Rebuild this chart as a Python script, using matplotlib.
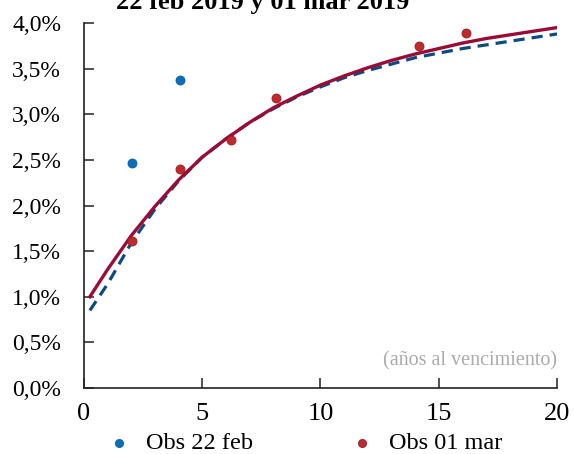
import matplotlib
matplotlib.use("Agg")
import matplotlib.pyplot as plt
from matplotlib.ticker import FuncFormatter

plt.rcParams['font.family'] = ['Liberation Serif', 'DejaVu Serif']

# fitted curves, maturity in years, rate in %
plazos = [0.25, 1, 2, 3, 4, 5, 6, 7, 8, 9, 10, 11, 12, 13, 14, 15, 16, 17, 18, 19, 20]
curva_01mar = [1.00, 1.30, 1.67, 1.99, 2.28, 2.53, 2.73, 2.91, 3.07, 3.20, 3.32,
               3.42, 3.51, 3.59, 3.66, 3.72, 3.78, 3.83, 3.87, 3.91, 3.95]
curva_22feb = [0.85, 1.14, 1.59, 1.96, 2.27, 2.53, 2.73, 2.91, 3.06, 3.19, 3.30,
               3.40, 3.48, 3.55, 3.62, 3.67, 3.72, 3.76, 3.80, 3.84, 3.88]

# observations
obs_22feb_x = [2.05, 4.05]
obs_22feb_y = [2.47, 3.38]
obs_01mar_x = [2.05, 4.05, 6.2, 8.1, 14.15, 16.15]
obs_01mar_y = [1.61, 2.40, 2.72, 3.18, 3.75, 3.89]

fig = plt.figure(figsize=(5.74, 4.54), dpi=100)
ax = fig.add_axes([0.1463, 0.1454, 0.8241, 0.8039])

ax.plot(plazos, curva_22feb, color='#0D4A80', lw=2.3, ls=(0, (3.5, 2.2)), zorder=2)
ax.plot(plazos, curva_01mar, color='#9A0C36', lw=2.4, zorder=3)

ax.scatter(obs_22feb_x, obs_22feb_y, s=42, color='#0A6EBD', edgecolor='#0A5FA0',
           linewidth=0.6, zorder=4, label='Obs 22 feb')
ax.scatter(obs_01mar_x, obs_01mar_y, s=42, color='#BE2A2E', edgecolor='#9A1A22',
           linewidth=0.6, zorder=4, label='Obs 01 mar')

ax.set_xlim(0, 20)
ax.set_ylim(0, 4.0)
ax.set_xticks([0, 5, 10, 15, 20])
ax.set_yticks([0, 0.5, 1.0, 1.5, 2.0, 2.5, 3.0, 3.5, 4.0])
ax.yaxis.set_major_formatter(FuncFormatter(lambda v, p: f"{v:.1f}%".replace('.', ',')))

for s in ['top', 'right']:
    ax.spines[s].set_visible(False)
for s in ['left', 'bottom']:
    ax.spines[s].set_color('#222222')
    ax.spines[s].set_linewidth(1.2)

ax.tick_params(direction='in', length=7, width=1.1, color='#222222')
ax.tick_params(axis='x', pad=11, labelsize=19)
ax.tick_params(axis='y', pad=16.5, labelsize=17)

ax.text(20, 0.30, '(años al vencimiento)', color='#AAAAAA', fontsize=14.5,
        ha='right', va='center')

fig.text(0.457, 1 - 9 / 454, '22 feb 2019 y 01 mar 2019', fontsize=19,
         fontweight='bold', ha='center', va='baseline')

ax.legend(loc='center', bbox_to_anchor=(0.466, -0.152), ncol=2, frameon=False,
          fontsize=17.5, handlelength=1.0, handletextpad=0.6, columnspacing=4.0,
          markerscale=0.9, borderaxespad=0)

fig.savefig('out.png', dpi=100)
